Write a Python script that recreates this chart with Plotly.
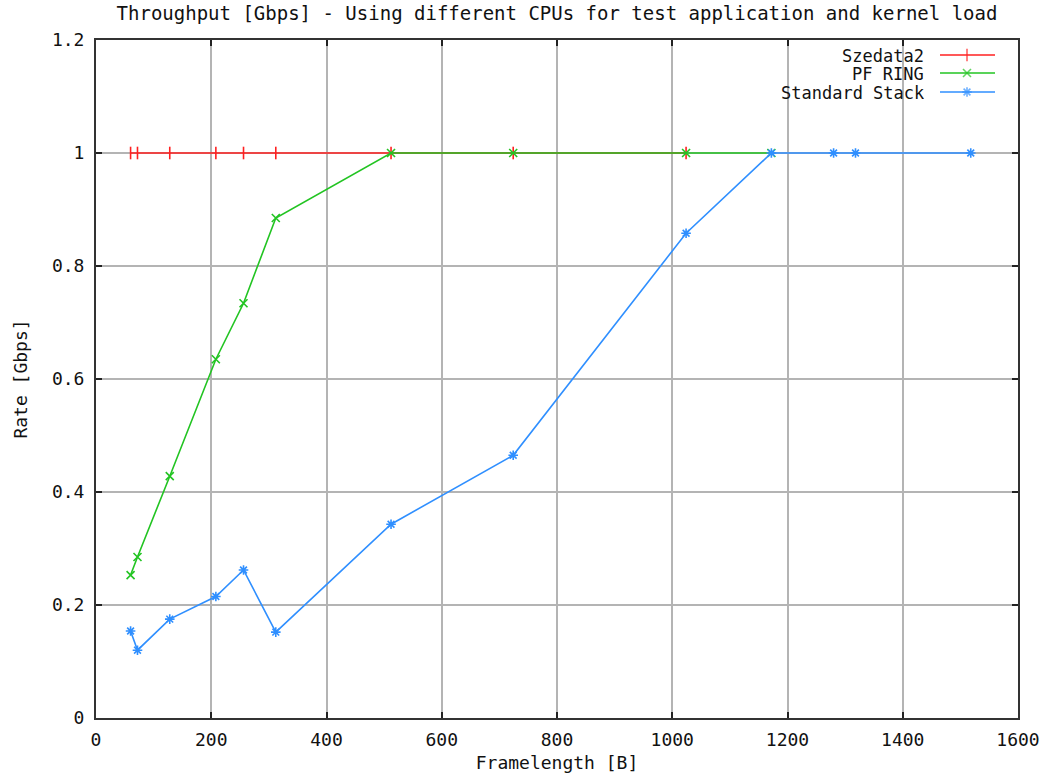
import plotly.graph_objects as go

# ---- data ----
sz_frames = [60, 72, 128, 208, 256, 312, 512, 724, 1024]
sz_rate = [1, 1, 1, 1, 1, 1, 1, 1, 1]

pf_frames = [60, 72, 128, 208, 256, 312, 512, 724, 1024, 1172]
pf_rate = [0.253, 0.285, 0.428, 0.635, 0.734, 0.885, 1, 1, 1, 1]

std_frames = [60, 72, 128, 208, 256, 312, 512, 724, 1024, 1172, 1280, 1318, 1518]
std_rate = [0.154, 0.120, 0.175, 0.215, 0.262, 0.152, 0.343, 0.465, 0.858, 1, 1, 1, 1]

series_names = ["Szedata2", "PF RING", "Standard Stack"]
x_ticks = [0, 200, 400, 600, 800, 1000, 1200, 1400, 1600]
y_ticks = [0, 0.2, 0.4, 0.6, 0.8, 1, 1.2]
y_tick_text = ["0", "0.2", "0.4", "0.6", "0.8", "1", "1.2"]

title = "Throughput [Gbps] - Using different CPUs for test application and kernel load"
x_title = "Framelength [B]"
y_title = "Rate [Gbps]"

# ---- style ----
FONT = "DejaVu Sans Mono"
FS = 18
colors = ["#ff2020", "#22c422", "#2f8fff"]
symbols = ["line-ns", "x-thin", "asterisk"]
msizes = [9, 8, 8]

W, H = 1050, 778
L, R, T, B = 96, 32, 40, 60

fig = go.Figure()
data = [(sz_frames, sz_rate), (pf_frames, pf_rate), (std_frames, std_rate)]
for (xs, ys), name, c, s, ms in zip(data, series_names, colors, symbols, msizes):
    fig.add_trace(go.Scatter(
        x=xs, y=ys, name=name, mode="lines+markers",
        line=dict(color=c, width=1.6),
        marker=dict(symbol=s, size=ms, color=c, line=dict(color=c, width=1.6)),
        showlegend=False,
    ))

# custom gnuplot-like legend (samples on overlay axes in plot fraction)
pw, ph = W - L - R, H - T - B
rows_px = [55, 73, 92]
lx0, lx1, lmx, txt_r = 940, 995, 967, 926
for ypx, name, c, s, ms in zip(rows_px, series_names, colors, symbols, msizes):
    fy = (H - B - ypx) / ph
    fig.add_trace(go.Scatter(
        x=[(lx0 - L) / pw, (lmx - L) / pw, (lx1 - L) / pw], y=[fy, fy, fy],
        xaxis="x2", yaxis="y2", mode="lines+markers",
        line=dict(color=c, width=1.6),
        marker=dict(symbol=s, size=[0, ms, 0], color=c, line=dict(color=c, width=1.6)),
        showlegend=False, hoverinfo="skip",
    ))
    fig.add_annotation(x=(txt_r - L) / pw, y=fy, xref="x2", yref="y2",
                       text=name, showarrow=False, xanchor="right", yanchor="middle",
                       height=17, font=dict(family=FONT, size=17, color="#111"))

axis_common = dict(
    showline=True, linecolor="#333", linewidth=2, mirror="ticks",
    ticks="inside", ticklen=6, tickwidth=2, tickcolor="#222",
    showgrid=True, gridcolor="#b4b4b4", gridwidth=2,
    zeroline=False, automargin=False,
    tickfont=dict(family=FONT, size=FS, color="#111"),
)

fig.update_layout(
    width=W, height=H,
    margin=dict(l=L, r=R, t=T, b=B),
    paper_bgcolor="white", plot_bgcolor="white",
    title=dict(text=title, x=(L + pw / 2) / W, xanchor="center", y=1 - 13 / H, yanchor="middle",
               font=dict(family=FONT, size=19, color="#111")),
    xaxis=dict(range=[0, 1600], tickvals=x_ticks, ticktext=[str(v) for v in x_ticks],
               title=dict(text=x_title, font=dict(family=FONT, size=FS, color="#111"), standoff=8),
               ticklabelstandoff=4,
               **axis_common),
    yaxis=dict(range=[0, 1.2], tickvals=y_ticks, ticktext=y_tick_text,
               title=dict(text=y_title, font=dict(family=FONT, size=FS, color="#111"), standoff=20),
               ticklabelstandoff=6,
               **axis_common),
    xaxis2=dict(range=[0, 1], overlaying="x", visible=False, fixedrange=True),
    yaxis2=dict(range=[0, 1], overlaying="y", visible=False, fixedrange=True),
    showlegend=False,
)

fig.write_html("out.html")
